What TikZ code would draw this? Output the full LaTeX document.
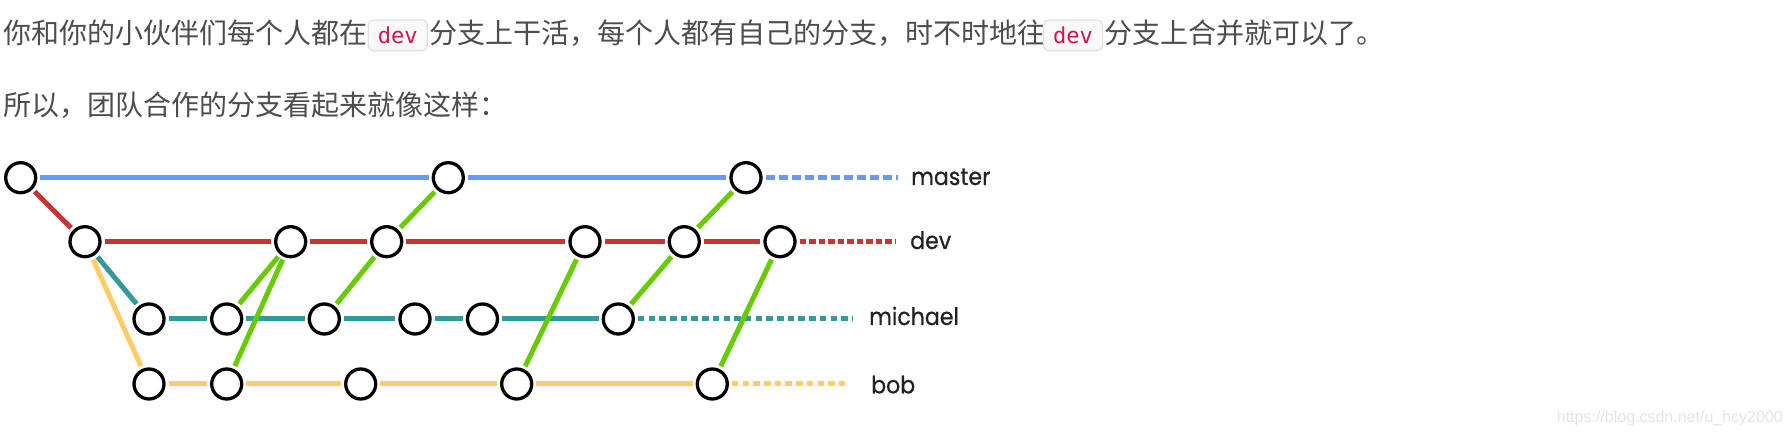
\documentclass[tikz,border=0pt]{standalone}
\usepackage{fontspec}
\newfontfamily\cjk{Noto Sans CJK SC}
\newfontfamily\monof{DejaVu Sans Mono}
\newfontfamily\labf{Poppins}[FakeStretch=0.92,FakeBold=0.6]
\newfontfamily\wmf{Liberation Sans}
\definecolor{txtgray}{HTML}{4D4D4D}
\definecolor{codered}{HTML}{D6114F}
\definecolor{codebg}{HTML}{F9F9F9}
\definecolor{codeframe}{HTML}{E0E0E0}
\definecolor{cmaster}{HTML}{6699FF}
\definecolor{cdev}{HTML}{CC3333}
\definecolor{cmich}{HTML}{339999}
\definecolor{cbob}{HTML}{FFCC66}
\definecolor{cmerge}{HTML}{66CC00}
\definecolor{labgray}{HTML}{222222}
\definecolor{wmgray}{HTML}{E4E4E4}
\begin{document}
\begin{tikzpicture}[x=1pt,y=-1pt,
  commit/.style={circle,draw=black,line width=3.3pt,fill=white,minimum size=30pt,inner sep=0pt,outer sep=4.65pt},
  brline/.style={line width=5pt},
  masterline/.style={brline,draw=cmaster},
  devline/.style={brline,draw=cdev},
  michline/.style={brline,draw=cmich},
  bobline/.style={brline,draw=cbob},
  mergeline/.style={brline,draw=cmerge},
  masterdash/.style={masterline,dash pattern=on 9.5pt off 3.5pt},
  devdash/.style={devline,dash pattern=on 6.5pt off 3pt},
  michdash/.style={michline,dash pattern=on 6.5pt off 4.2pt},
  bobdash/.style={bobline,dash pattern=on 6.5pt off 4.2pt},
  bodytext/.style={inner sep=0pt,anchor=base west,text=txtgray,font=\cjk\fontsize{28pt}{34pt}\selectfont},
  codebox/.style={draw=codeframe,line width=1.3pt,fill=codebg,rounded corners=5pt,minimum width=59pt,minimum height=30.7pt,inner sep=0pt,text=codered,font=\monof\fontsize{22pt}{26pt}\selectfont},
  branchlabel/.style={inner sep=0pt,anchor=base west,text=labgray,font=\labf\fontsize{24pt}{28pt}\selectfont},
  watermark/.style={inner sep=0pt,anchor=base east,text=wmgray,font=\wmf\fontsize{16pt}{19pt}\selectfont}
]
\useasboundingbox[fill=white] (0,0) rectangle (1791,435);

% top text
\node[bodytext] (t1) at (3,44) {你和你的小伙伴们每个人都在};
\node[codebox] (k1) at (397.8,35.3) {dev};
\node[bodytext] (t2) at (429,44) {分支上干活，每个人都有自己的分支，时不时地往};
\node[codebox] (k2) at (1073,35.3) {dev};
\node[bodytext] (t3) at (1104,44) {分支上合并就可以了。};
\node[bodytext] (t4) at (3,116) {所以，团队合作的分支看起来就像这样：};

% commits
\node[commit] (m1) at (20.7,177.7) {};
\node[commit] (m2) at (448.3,177.7) {};
\node[commit] (m3) at (746,177.7) {};
\node[commit] (d1) at (85,241.7) {};
\node[commit] (d2) at (290.7,241.7) {};
\node[commit] (d3) at (386.7,241.7) {};
\node[commit] (d4) at (585,241.7) {};
\node[commit] (d5) at (684.3,241.7) {};
\node[commit] (d6) at (780,241.7) {};
\node[commit] (c1) at (149,319) {};
\node[commit] (c2) at (226.7,319) {};
\node[commit] (c3) at (324.3,319) {};
\node[commit] (c4) at (415,319) {};
\node[commit] (c5) at (482.5,319) {};
\node[commit] (c6) at (618.3,319) {};
\node[commit] (b1) at (149,384) {};
\node[commit] (b2) at (226.7,384) {};
\node[commit] (b3) at (360.7,384) {};
\node[commit] (b4) at (516.7,384) {};
\node[commit] (b5) at (712.3,384) {};

\coordinate (mE) at (898.3,177.7);
\coordinate (dE) at (896,241.7);
\coordinate (cE) at (853,319);
\coordinate (bE) at (849,384);

% branch lines
\draw[masterline] (m1) -- (m2);
\draw[masterline] (m2) -- (m3);
\draw[masterdash] (m3) -- (mE);
\draw[devline] (m1) -- (d1);
\draw[devline] (d1) -- (d2);
\draw[devline] (d2) -- (d3);
\draw[devline] (d3) -- (d4);
\draw[devline] (d4) -- (d5);
\draw[devline] (d5) -- (d6);
\draw[devdash] (d6) -- (dE);
\draw[michline] (d1) -- (c1);
\draw[michline] (c1) -- (c2);
\draw[michline] (c2) -- (c3);
\draw[michline] (c3) -- (c4);
\draw[michline] (c4) -- (c5);
\draw[michline] (c5) -- (c6);
\draw[michdash] (c6) -- (cE);
\draw[bobline] (d1) -- (b1);
\draw[bobline] (b1) -- (b2);
\draw[bobline] (b2) -- (b3);
\draw[bobline] (b3) -- (b4);
\draw[bobline] (b4) -- (b5);
\draw[bobdash] (b5) -- (bE);

% merges
\draw[mergeline] (c2) -- (d2);
\draw[mergeline] (b2) -- (d2);
\draw[mergeline] (c3) -- (d3);
\draw[mergeline] (d3) -- (m2);
\draw[mergeline] (b4) -- (d4);
\draw[mergeline] (c6) -- (d5);
\draw[mergeline] (d5) -- (m3);
\draw[mergeline] (b5) -- (d6);

% labels
\node[branchlabel] (lm) at (911,185) {master};
\node[branchlabel] (ld) at (910,249) {dev};
\node[branchlabel] (lc) at (869,325) {michael};
\node[branchlabel] (lb) at (871,393.3) {bob};

\node[watermark] (wm) at (1783,422) {https://blog.csdn.net/u\_hcy2000};
\end{tikzpicture}
\end{document}
